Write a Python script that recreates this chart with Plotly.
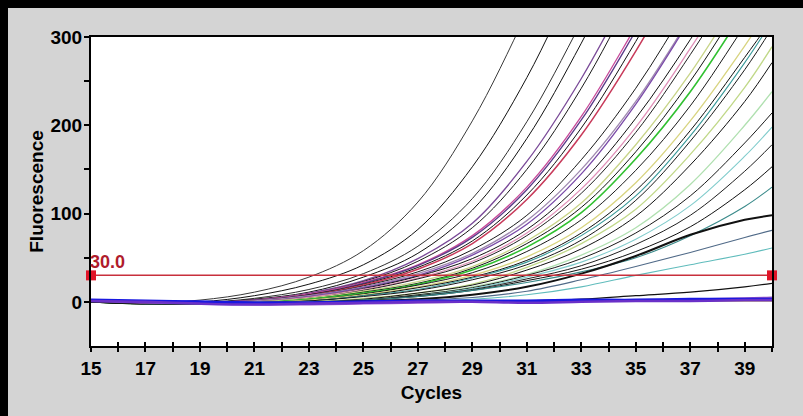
import plotly.graph_objects as go

# ---------------- data ----------------
CYCLES = [15, 17, 19, 21, 23, 25, 27, 29, 31, 33, 35, 37, 39, 40]

X_TICKS = list(range(15, 41))
X_TICK_LABELS = ["15", "", "17", "", "19", "", "21", "", "23", "", "25", "", "27", "",
                 "29", "", "31", "", "33", "", "35", "", "37", "", "39", ""]
Y_TICKS = [0, 50, 100, 150, 200, 250, 300]
Y_TICK_LABELS = ["0", "", "100", "", "200", "", "300"]

THRESHOLD = 30.0
THRESHOLD_X = [15, 40]

CURVE_01 = [1, -1, 2, 11, 28, 58, 113, 205, 327, 457, 587, 690, 750, 770]
CURVE_02 = [1, -1, 0, 7, 20, 42, 82, 153, 254, 380, 500, 620, 700, 730]
CURVE_03 = [0, -2, -1, 4, 14, 32, 63, 117, 204, 317, 440, 560, 660, 700]
CURVE_04 = [1, -2, -1, 3, 11, 28, 55, 104, 185, 293, 415, 535, 640, 690]
CURVE_05 = [0, -2, -1, 2, 10, 24, 49, 89, 159, 253, 366, 483, 593, 640]
CURVE_06 = [1, -1, -1, 2, 9, 23, 46, 84, 150, 242, 355, 470, 587, 630]
CURVE_07 = [0, -2, -1, 2, 9, 22, 42, 75, 130, 210, 312, 420, 530, 585]
CURVE_08 = [1, -2, -1, 2, 8, 21, 41, 73, 127, 206, 307, 416, 525, 580]
CURVE_09 = [0, -1, -1, 1, 8, 20, 39, 69, 121, 197, 295, 405, 515, 570]
CURVE_10 = [1, -2, -1, 1, 7, 19, 37, 66, 116, 189, 284, 393, 505, 560]
CURVE_11 = [0, -2, -2, 1, 7, 18, 34, 59, 98, 161, 242, 340, 440, 490]
CURVE_12 = [0, -1, -1, 1, 7, 17, 32, 55, 92, 150, 227, 322, 420, 470]
CURVE_13 = [1, -2, -2, 0, 6, 16, 30, 53, 88, 145, 224, 320, 418, 470]
CURVE_14 = [0, -2, -2, 0, 5, 15, 29, 49, 82, 135, 208, 297, 397, 445]
CURVE_15 = [1, -1, -2, 0, 5, 14, 27, 46, 78, 128, 198, 287, 385, 437]
CURVE_16 = [0, -2, -2, 0, 4, 13, 26, 44, 75, 123, 192, 280, 377, 425]
CURVE_17 = [0, -1, -2, 0, 4, 12, 23, 40, 69, 112, 178, 259, 355, 402]
CURVE_18 = [1, -2, -2, -1, 3, 11, 21, 38, 66, 107, 170, 250, 345, 393]
CURVE_19 = [0, -2, -2, -1, 3, 10, 20, 36, 62, 101, 162, 238, 331, 380]
CURVE_20 = [0, -1, -2, -1, 2, 9, 19, 33, 57, 93, 149, 222, 313, 360]
CURVE_21 = [1, -1, -2, -1, 2, 8, 17, 30, 51, 84, 135, 205, 290, 337]
CURVE_22 = [0, -2, -2, -1, 1, 7, 16, 28, 47, 78, 126, 194, 277, 320]
CURVE_23 = [0, -2, -2, -1, 1, 7, 14, 27, 45, 75, 120, 188, 271, 318]
CURVE_24 = [1, -1, -2, -1, 1, 6, 13, 25, 42, 70, 115, 182, 263, 310]
CURVE_25 = [0, -1, -2, -1, 0, 4, 10, 20, 39, 66, 105, 167, 243, 289]
CURVE_26 = [1, -2, -2, -1, 0, 3, 10, 19, 36, 60, 97, 155, 227, 271]
CURVE_27 = [0, -1, -2, -2, 0, 2, 8, 17, 31, 53, 84, 133, 200, 238]
CURVE_28 = [0, -2, -2, -2, -1, 2, 8, 16, 30, 49, 78, 120, 180, 214]
CURVE_29 = [1, -1, -2, -2, -1, 2, 7, 15, 28, 45, 71, 109, 165, 198]
CURVE_30 = [0, -2, -2, -2, -1, 2, 7, 14, 26, 41, 65, 98, 148, 178]
CURVE_31 = [0, -1, -2, -2, -1, 2, 6, 13, 24, 37, 57, 85, 127, 153]
CURVE_32 = [1, -2, -2, -2, -1, 2, 6, 13, 22, 34, 50, 75, 108, 130]
CURVE_33 = [0, -2, -2, -2, -1, 1, 3, 8, 17, 32, 52, 76, 93, 98]
CURVE_34 = [0, -1, -2, -2, -1, 0, 2, 5, 12, 25, 40, 56, 73, 81]
CURVE_35 = [1, -2, -2, -2, -2, -1, 1, 3, 8, 17, 30, 42, 54, 61]
CURVE_36 = [0, -2, -2, -3, -2, -1, 0, 0, 1, 3, 7, 11, 17, 21]
CURVE_37 = [1, -1, -2, -3, -3, -2, -1, 0, 0, 1, 2, 3, 4, 5]
CURVE_38 = [2, 0, -1, -2, -1, 0, 1, 1, 1, 1, 1, 1, 1, 1]
CURVE_39 = [2, 1, 0, -1, -1, 0, 1, 1, 1, 2, 2, 3, 3, 3]
CURVE_40 = [1, 0, -2, -3, -2, -1, 0, 0, -1, 0, 1, 1, 2, 2]

SERIES = [CURVE_01, CURVE_02, CURVE_03, CURVE_04, CURVE_05, CURVE_06, CURVE_07, CURVE_08,
          CURVE_09, CURVE_10, CURVE_11, CURVE_12, CURVE_13, CURVE_14, CURVE_15, CURVE_16,
          CURVE_17, CURVE_18, CURVE_19, CURVE_20, CURVE_21, CURVE_22, CURVE_23, CURVE_24,
          CURVE_25, CURVE_26, CURVE_27, CURVE_28, CURVE_29, CURVE_30, CURVE_31, CURVE_32,
          CURVE_33, CURVE_34, CURVE_35, CURVE_36, CURVE_37, CURVE_38, CURVE_39, CURVE_40]

# ---------------- styles ----------------
COLORS = ["#3a3a3a", "#111111", "#303030", "#111111", "#7a4a98", "#1a1a1a", "#c84a9a", "#5a3a88",
          "#111111", "#c83a5a", "#1a1a1a", "#a08ab0", "#7a4aa8", "#111111", "#e090b8", "#202020",
          "#c8d488", "#111111", "#30c030", "#1a1a1a", "#d8d480", "#111111", "#3a9a9a", "#1a1a1a",
          "#c0d888", "#111111", "#b0e0b0", "#1a1a1a", "#80cccc", "#202020", "#111111", "#3a8a8a",
          "#111111", "#506a88", "#60bcbc", "#111111", "#9050c8", "#703838", "#1818e0", "#6a30c8"]
WIDTHS = [1, 1, 1, 1, 1.3, 1, 1.3, 1.3, 1, 1.5, 1, 1.3, 1.3, 1, 1.3, 1,
          1.3, 1, 1.6, 1, 1.3, 1, 1.1, 1, 1.3, 1, 1.3, 1, 1.1, 1, 1, 1.1,
          2, 1.1, 1.1, 1.2, 2, 1.2, 3, 2.5]

FONT = "Liberation Sans, Arial, sans-serif"

fig = go.Figure()
for vals, col, w in zip(SERIES, COLORS, WIDTHS):
    fig.add_trace(go.Scatter(x=CYCLES, y=vals, mode="lines",
                             line=dict(color=col, width=w, shape="spline", smoothing=1.0),
                             hoverinfo="skip", showlegend=False))

# threshold line
fig.add_trace(go.Scatter(x=THRESHOLD_X, y=[THRESHOLD] * len(THRESHOLD_X), mode="lines+markers",
                         line=dict(color="#c8303c", width=1.5),
                         marker=dict(symbol="square", size=10, color="#e01428"),
                         hoverinfo="skip", showlegend=False, cliponaxis=False))
# dummy trace for inner tick axis
fig.add_trace(go.Scatter(x=THRESHOLD_X, y=[THRESHOLD] * len(THRESHOLD_X), xaxis="x2", mode="lines",
                         line=dict(width=0), opacity=0, hoverinfo="skip", showlegend=False))

fig.add_annotation(x=THRESHOLD_X[0], y=THRESHOLD, text=f"{THRESHOLD:.1f}", showarrow=False,
                   xanchor="left", yanchor="bottom", xshift=-3, yshift=1,
                   font=dict(family=FONT, size=18, color="#b01c2c", weight="bold"))

# black frame strips (top and left), kept inside the page
L, R, T, B = 91, 31, 37, 70
PW, PH = 803 - L - R, 416 - T - B
fig.add_shape(type="rect", xref="paper", yref="paper", x0=-L / PW, x1=(8 - L) / PW,
              y0=-B / PH, y1=(PH + T) / PH, fillcolor="black", line_width=0, layer="above")
fig.add_shape(type="rect", xref="paper", yref="paper", x0=-L / PW, x1=(PW + R) / PW,
              y0=(PH + T - 8) / PH, y1=(PH + T) / PH, fillcolor="black", line_width=0, layer="above")

tickfont = dict(family=FONT, size=19, color="black", weight="bold")
titlefont = dict(family=FONT, size=19, color="black", weight="bold")

fig.update_layout(
    width=803, height=416,
    margin=dict(l=L, r=R, t=T, b=B),
    paper_bgcolor="#d4d4d4", plot_bgcolor="white",
    showlegend=False,
    xaxis=dict(range=[15, 40], tickmode="array", tickvals=X_TICKS, ticktext=X_TICK_LABELS,
               ticks="outside", ticklen=4, tickwidth=1.5, tickcolor="black",
               showline=True, linecolor="black", linewidth=2, mirror=True,
               showgrid=False, zeroline=False, tickfont=tickfont,
               title=dict(text="Cycles", font=titlefont, standoff=8)),
    xaxis2=dict(range=[15, 40], overlaying="x", anchor="y", side="bottom", tickmode="array",
                tickvals=X_TICKS, ticks="inside", ticklen=4, tickwidth=1.5, tickcolor="black",
                showticklabels=False, showline=False, showgrid=False, zeroline=False),
    yaxis=dict(range=[-50, 300], tickmode="array", tickvals=Y_TICKS, ticktext=Y_TICK_LABELS,
               ticks="outside", ticklen=5, tickwidth=1.5, tickcolor="black",
               showline=True, linecolor="black", linewidth=2, mirror=True,
               showgrid=False, zeroline=False, tickfont=tickfont, ticklabelstandoff=-2,
               title=dict(text="Fluorescence", font=titlefont, standoff=2)),
)

fig.write_html("out.html")
